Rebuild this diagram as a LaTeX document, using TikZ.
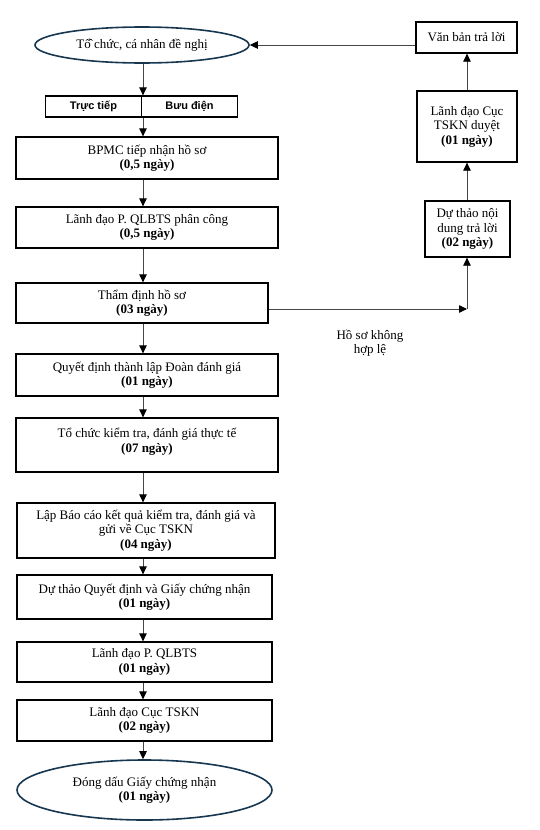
\documentclass[tikz,border=0pt]{standalone}
\usepackage{fontspec}
\setmainfont{Liberation Serif}
\setsansfont{Liberation Sans}
\usepackage{tikz}
\usetikzlibrary{shapes.geometric, arrows.meta, positioning, calc}
\definecolor{ovalnavy}{RGB}{23, 55, 80}
\definecolor{linkgray}{RGB}{70, 70, 70}

\tikzset{
    stepbox/.style={draw, line width=1.3pt, align=center, inner sep=2pt,
        font=\fontsize{13}{14.5}\selectfont},
    ovalbox/.style={ellipse, draw=ovalnavy, line width=1.6pt, align=center, inner sep=0pt,
        font=\fontsize{13}{14.5}\selectfont},
    link/.style={draw=linkgray, line width=0.8pt, -{Triangle[width=7.5pt,length=8pt,black]}}
}

\begin{document}
\begin{tikzpicture}[x=1pt, y=-1pt]
    \useasboundingbox (0,0) rectangle (539,830);
    \coordinate (axis) at (143,0);

    % main column
    \node[ovalbox, minimum width=214pt, minimum height=36pt] (start) at (142,45)
        {T\^{ổ} chức, cá nhân đề nghị};
    \node[draw, line width=1.3pt, minimum width=96pt, minimum height=21pt, inner sep=0pt,
          font=\sffamily\bfseries\fontsize{11}{13}\selectfont] (direct) at (93.5,106.5) {Trực tiếp};
    \node[draw, line width=1.3pt, minimum width=96pt, minimum height=21pt, inner sep=0pt,
          font=\sffamily\bfseries\fontsize{11}{13}\selectfont] (post) at (189.5,106.5) {Bưu điện};
    \node[stepbox, minimum width=262pt, minimum height=42pt] (receive) at (147,158)
        {BPMC tiếp nhận hồ sơ\\\textbf{(0,5 ngày)}};
    \node[stepbox, minimum width=262pt, minimum height=41pt] (assign) at (147,227.5)
        {Lãnh đạo P. QLBTS phân công\\\textbf{(0,5 ngày)}};
    \node[stepbox, minimum width=252pt, minimum height=40pt] (review) at (142,303)
        {Thẩm định hồ sơ\\\textbf{(03 ngày)}};
    \node[stepbox, minimum width=262pt, minimum height=42pt] (decide) at (147,375)
        {Quyết định thành lập Đoàn đánh giá\\\textbf{(01 ngày)}};
    \node[stepbox, minimum width=262pt, minimum height=54pt] (inspect) at (147,445)
        {Tổ chức kiểm tra, đánh giá thực tế\\\textbf{(07 ngày)}\\[-5pt]~};
    \node[stepbox, minimum width=258pt, minimum height=55pt] (report) at (146,530.5)
        {Lập Báo cáo kết quả kiểm tra, đánh giá và\\gửi về Cục TSKN\\\textbf{(04 ngày)}};
    \node[stepbox, minimum width=255pt, minimum height=44pt] (draftcert) at (144.5,597)
        {Dự thảo Quyết định và Giấy chứng nhận\\\textbf{(01 ngày)}};
    \node[stepbox, minimum width=255pt, minimum height=40pt] (deptlead) at (144.5,662)
        {Lãnh đạo P. QLBTS\\\textbf{(01 ngày)}};
    \node[stepbox, minimum width=255pt, minimum height=41pt] (cuclead) at (144.5,720.5)
        {Lãnh đạo Cục TSKN\\\textbf{(02 ngày)}};
    \node[ovalbox, minimum width=255pt, minimum height=60pt] (seal) at (144.5,790)
        {Đóng dấu Giấy chứng nhận\\\textbf{(01 ngày)}};

    % reply branch
    \node[stepbox, minimum width=101pt, minimum height=31pt] (answer) at (466.5,37.5)
        {Văn bản trả lời};
    \node[stepbox, minimum width=100pt, minimum height=71pt] (approve) at (467,126.5)
        {Lãnh đạo Cục\\TSKN duyệt\\\textbf{(01 ngày)}};
    \node[stepbox, minimum width=85pt, minimum height=56pt] (draftreply) at (467.5,229)
        {Dự thảo nội\\dung trả lời\\\textbf{(02 ngày)}};
    \coordinate (turn) at (467,309);
    \node[align=center, font=\fontsize{13}{14.5}\selectfont] (invalid) at (370,343)
        {Hồ sơ không\\hợp lệ};

    % connectors
    \draw[link] (start.south -| axis) -- (direct.north -| axis);
    \draw[link] (direct.south -| axis) -- (receive.north -| axis);
    \draw[link] (receive.south -| axis) -- (assign.north -| axis);
    \draw[link] (assign.south -| axis) -- (review.north -| axis);
    \draw[link] (review.south -| axis) -- (decide.north -| axis);
    \draw[link] (decide.south -| axis) -- (inspect.north -| axis);
    \draw[link] (inspect.south -| axis) -- (report.north -| axis);
    \draw[link] (report.south -| axis) -- (draftcert.north -| axis);
    \draw[link] (draftcert.south -| axis) -- (deptlead.north -| axis);
    \draw[link] (deptlead.south -| axis) -- (cuclead.north -| axis);
    \draw[link] (cuclead.south -| axis) -- (seal.north -| axis);

    \draw[link] (review.east |- turn) -- (turn);
    \draw[link] (turn) -- (draftreply.south -| turn);
    \draw[link] (draftreply.north -| turn) -- (approve.south -| turn);
    \draw[link] (approve.north -| turn) -- (answer.south -| turn);
    \draw[link] (answer.west |- start.east) -- (start.east);
\end{tikzpicture}
\end{document}
